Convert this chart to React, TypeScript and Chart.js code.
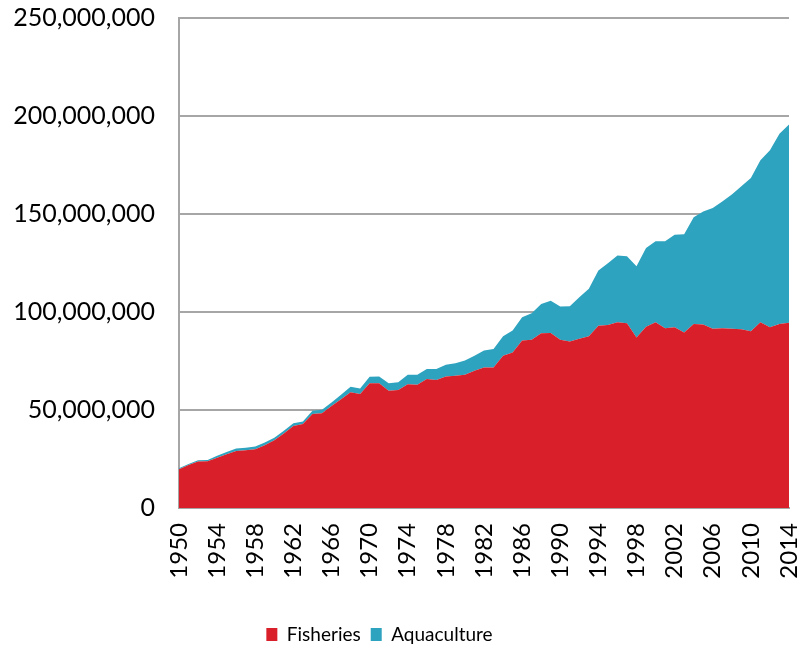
import React, { useEffect, useRef } from "react";
import { Chart, registerables } from "chart.js";

Chart.register(...registerables);

const years: string[] = [];
for (let y = 1950; y <= 2014; y++) years.push(String(y));

// millions of tonnes
const fisheries = [
  19.8, 22.0, 23.7, 23.8, 25.7, 27.4, 29.1, 29.5, 30.0, 32.0,
  34.6, 38.0, 41.9, 42.8, 47.9, 48.4, 52.1, 55.5, 59.0, 58.1,
  63.6, 63.6, 59.8, 60.2, 63.2, 62.9, 65.8, 65.3, 67.1, 67.5,
  68.0, 70.0, 71.7, 71.7, 77.7, 79.4, 85.4, 85.9, 89.1, 89.3,
  85.9, 85.0, 86.4, 87.6, 93.0, 93.4, 94.8, 94.2, 87.0, 92.5,
  94.8, 91.7, 92.2, 89.6, 93.9, 93.6, 91.4, 91.7, 91.4, 91.2,
  90.2, 94.8, 92.2, 93.9, 94.5,
];

const aquaculture = [
  0.5, 0.5, 0.7, 0.7, 0.9, 1.2, 1.2, 1.3, 1.4, 1.4,
  1.3, 1.4, 1.4, 1.3, 1.7, 1.7, 1.7, 2.3, 2.9, 2.9,
  3.4, 3.5, 3.8, 3.9, 4.8, 5.1, 5.1, 5.6, 6.0, 6.3,
  7.2, 7.7, 8.6, 9.4, 9.9, 11.1, 11.9, 13.5, 15.0, 16.5,
  16.9, 17.9, 21.1, 24.2, 28.2, 31.5, 34.0, 34.3, 36.4, 40.1,
  41.3, 44.4, 47.2, 50.1, 54.5, 57.7, 61.6, 64.7, 68.6, 72.9,
  78.2, 82.6, 90.3, 97.1, 101.1,
];

const yTicks = [0, 50000000, 100000000, 150000000, 200000000, 250000000];

const RED = "#D91F29";
const TEAL = "#2EA3BF";
const GRID = "#A6A6A6";
const FONT = "Lato, 'Open Sans', sans-serif";

export default function App() {
  const ref = useRef<HTMLCanvasElement | null>(null);

  useEffect(() => {
    document.body.style.margin = "0";
    const ctx = ref.current!.getContext("2d")!;
    const chart = new Chart(ctx, {
      type: "line",
      data: {
        labels: years,
        datasets: [
          {
            label: "Fisheries",
            data: fisheries.map((v) => v * 1e6),
            backgroundColor: RED,
            borderColor: RED,
            borderWidth: 0,
            pointRadius: 0,
            fill: "origin",
            tension: 0,
          },
          {
            label: "Aquaculture",
            data: aquaculture.map((v) => v * 1e6),
            backgroundColor: TEAL,
            borderColor: TEAL,
            borderWidth: 0,
            pointRadius: 0,
            fill: "-1",
            tension: 0,
          },
        ],
      },
      options: {
        animation: false,
        responsive: false,
        layout: { padding: { top: 18, right: 10, bottom: -8, left: -30 } },
        plugins: {
          tooltip: { enabled: false },
          legend: {
            position: "bottom",
            labels: {
              color: "#000",
              font: { family: FONT, size: 19 },
              boxWidth: 11,
              boxHeight: 13,
              padding: 10,
            },
          },
        },
        scales: {
          x: {
            offset: false,
            grid: { display: false, drawTicks: false },
            border: { display: true, color: GRID, width: 2 },
            afterFit: (s: any) => {
              s.height = 107;
              s.paddingLeft = 0;
              s.paddingRight = 0;
            },
            ticks: {
              autoSkip: false,
              maxRotation: 90,
              minRotation: 90,
              padding: 15,
              color: "#000",
              font: { family: FONT, size: 24 },
              callback: (_v: any, i: number) => (i % 4 === 0 ? years[i] : ""),
            },
          },
          y: {
            stacked: true,
            min: 0,
            max: 250000000,
            afterFit: (s: any) => {
              s.width = 209;
              s.paddingTop = 0;
              s.paddingBottom = 0;
            },
            afterBuildTicks: (s: any) => {
              s.ticks = yTicks.map((v) => ({ value: v }));
            },
            grid: { color: GRID, lineWidth: 2, drawTicks: false },
            border: { display: true, color: GRID, width: 2 },
            ticks: {
              padding: 24,
              color: "#000",
              font: { family: FONT, size: 25 },
              callback: (v: any) => Number(v).toLocaleString("en-US"),
            },
          },
        },
      },
    });
    return () => chart.destroy();
  }, []);

  return (
    <div style={{ width: 799, height: 646 }}>
      <canvas ref={ref} width={799} height={646} />
    </div>
  );
}
